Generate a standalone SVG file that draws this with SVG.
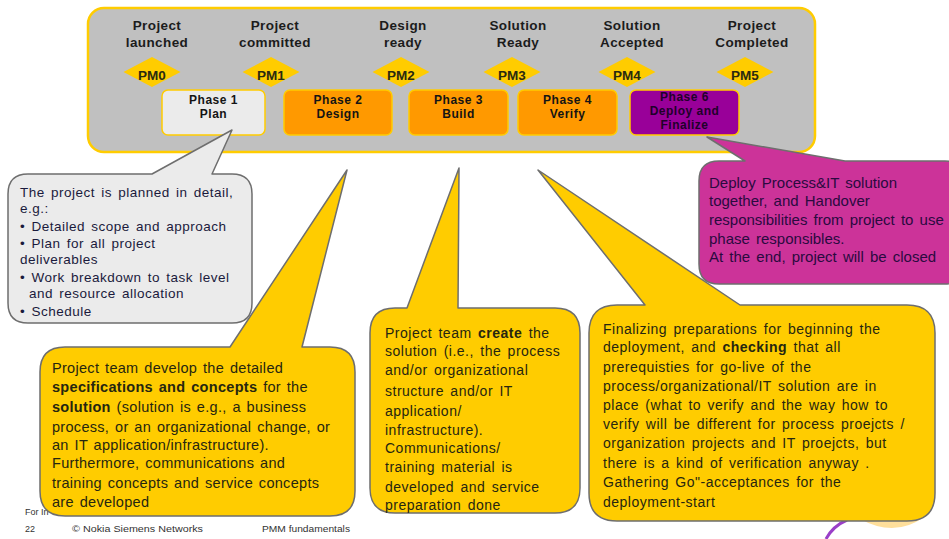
<svg xmlns="http://www.w3.org/2000/svg" width="949" height="539" viewBox="0 0 949 539">
<style>
  .lbl{font-family:"Liberation Sans",Arial,sans-serif;font-weight:bold;font-size:13.5px;letter-spacing:0.4px;fill:#1c1c1c;text-anchor:middle}
  .pm{font-family:"Liberation Sans",Arial,sans-serif;font-weight:bold;font-size:13.5px;fill:#2a2a10;text-anchor:middle}
  .ph{font-family:"Liberation Sans",Arial,sans-serif;font-weight:bold;font-size:12px;letter-spacing:0.5px;fill:#141414;text-anchor:middle}
  .dia{fill:#ffcc00}
  .box{stroke:#ffcc00;stroke-width:1.5}
  .call{stroke:#6e6e6e;stroke-width:1.5;stroke-linejoin:round}
  .body{font-family:"Liberation Sans",Arial,sans-serif;font-size:14px;fill:#262610}
  .gtxt{font-family:"Liberation Sans",Arial,sans-serif;font-size:13.5px;letter-spacing:0.5px;word-spacing:2px;fill:#1a1a3c}
  .ptxt{font-family:"Liberation Sans",Arial,sans-serif;font-size:15px;word-spacing:2px;fill:#2a0a40}
  .foot{font-family:"Liberation Sans",Arial,sans-serif;font-size:9px;fill:#333}
  .b{font-weight:bold}
</style>

<!-- decorative fragments bottom right -->
<path d="M860,519 Q895,538 924,517 L932,500 Q914,528 860,519 Z" fill="#ffd98a" opacity="0.85"/>
<path d="M826,539 Q833,526 847,520" fill="none" stroke="#9a3fc8" stroke-width="3"/>

<!-- footer -->
<g id="footer">
  <text class="foot" x="25" y="515">For In</text>
  <text class="foot" x="25" y="532">22</text>
  <text class="foot" x="72" y="532" textLength="131" lengthAdjust="spacingAndGlyphs">© Nokia Siemens Networks</text>
  <text class="foot" x="262" y="532" textLength="88" lengthAdjust="spacingAndGlyphs">PMM fundamentals</text>
</g>

<!-- banner -->
<g id="banner">
  <rect x="88" y="8" width="727" height="144" rx="16" fill="#c0c0c0" stroke="#ffcc00" stroke-width="2.5"/>
</g>

<g id="milestones">
  <g id="pm0">
    <text class="lbl" x="157" y="30">Project</text>
    <text class="lbl" x="157" y="47">launched</text>
    <polygon class="dia" points="123.5,72 152,57 180.5,72 152,87"/>
    <text class="pm" x="152" y="80">PM0</text>
  </g>
  <g id="pm1">
    <text class="lbl" x="275" y="30">Project</text>
    <text class="lbl" x="275" y="47">committed</text>
    <polygon class="dia" points="242.5,72 271,57 299.5,72 271,87"/>
    <text class="pm" x="271" y="80">PM1</text>
  </g>
  <g id="pm2">
    <text class="lbl" x="403" y="30">Design</text>
    <text class="lbl" x="403" y="47">ready</text>
    <polygon class="dia" points="372.5,72 401,57 429.5,72 401,87"/>
    <text class="pm" x="401" y="80">PM2</text>
  </g>
  <g id="pm3">
    <text class="lbl" x="518" y="30">Solution</text>
    <text class="lbl" x="518" y="47">Ready</text>
    <polygon class="dia" points="483.5,72 512,57 540.5,72 512,87"/>
    <text class="pm" x="512" y="80">PM3</text>
  </g>
  <g id="pm4">
    <text class="lbl" x="632" y="30">Solution</text>
    <text class="lbl" x="632" y="47">Accepted</text>
    <polygon class="dia" points="598.5,72 627,57 655.5,72 627,87"/>
    <text class="pm" x="627" y="80">PM4</text>
  </g>
  <g id="pm5">
    <text class="lbl" x="752" y="30">Project</text>
    <text class="lbl" x="752" y="47">Completed</text>
    <polygon class="dia" points="716.5,72 745,57 773.5,72 745,87"/>
    <text class="pm" x="745" y="80">PM5</text>
  </g>
</g>

<g id="phases">
  <g id="phase1">
    <rect class="box" x="162" y="90" width="103" height="45" rx="6" fill="#ebebeb"/>
    <text class="ph" x="213.5" y="104">Phase 1</text>
    <text class="ph" x="213.5" y="118">Plan</text>
  </g>
  <g id="phase2">
    <rect class="box" x="284" y="90" width="108" height="45" rx="6" fill="#ff9900"/>
    <text class="ph" x="338" y="104">Phase 2</text>
    <text class="ph" x="338" y="118">Design</text>
  </g>
  <g id="phase3">
    <rect class="box" x="409" y="90" width="99" height="45" rx="6" fill="#ff9900"/>
    <text class="ph" x="458.5" y="104">Phase 3</text>
    <text class="ph" x="458.5" y="118">Build</text>
  </g>
  <g id="phase4">
    <rect class="box" x="518" y="90" width="99" height="45" rx="6" fill="#ff9900"/>
    <text class="ph" x="567.5" y="104">Phase 4</text>
    <text class="ph" x="567.5" y="118">Verify</text>
  </g>
  <g id="phase6">
    <rect class="box" x="630" y="90" width="109" height="45" rx="6" fill="#990099"/>
    <text class="ph" x="684.5" y="101" style="fill:#20002a">Phase 6</text>
    <text class="ph" x="684.5" y="115" style="fill:#20002a">Deploy and</text>
    <text class="ph" x="684.5" y="129" style="fill:#20002a">Finalize</text>
  </g>
</g>

<!-- callouts -->
<g id="callout-deploy">
  <path class="call" fill="#cc3399" d="M719,161 L745,161 L707,137 L845,161 L945,161 Q965,161 965,181 L965,264 Q965,284 945,284 L719,284 Q699,284 699,264 L699,181 Q699,161 719,161 Z"/>
  <text class="ptxt" x="709" y="188">Deploy Process&amp;IT solution</text>
  <text class="ptxt" x="709" y="206">together, and Handover</text>
  <text class="ptxt" x="709" y="225">responsibilities from project to use</text>
  <text class="ptxt" x="709" y="244">phase responsibles.</text>
  <text class="ptxt" x="709" y="262">At the end, project will be closed</text>
</g>

<g id="callout-design">
  <path class="call" fill="#ffcc00" d="M65,347 L230,347 L347,170 L302,347 L330,347 Q355,347 355,372 L355,491 Q355,516 330,516 L65,516 Q40,516 40,491 L40,372 Q40,347 65,347 Z"/>
  <g class="body" style="font-size:14.5px;letter-spacing:0.3px;word-spacing:1.5px">
    <text x="52" y="373">Project team develop the detailed</text>
    <text x="52" y="392"><tspan class="b">specifications and concepts</tspan> for the</text>
    <text x="52" y="412"><tspan class="b">solution</tspan> (solution is e.g., a business</text>
    <text x="52" y="432">process, or an organizational change, or</text>
    <text x="52" y="450">an IT application/infrastructure).</text>
    <text x="52" y="468">Furthermore, communications and</text>
    <text x="52" y="488">training concepts and service concepts</text>
    <text x="52" y="507">are developed</text>
  </g>
</g>

<g id="callout-plan">
  <path class="call" fill="#ebebeb" d="M28,174 L152,174 L232,130 L212,174 L232,174 Q252,174 252,194 L252,303 Q252,323 232,323 L28,323 Q8,323 8,303 L8,194 Q8,174 28,174 Z"/>
  <g class="gtxt">
    <text x="20" y="197">The project is planned in detail,</text>
    <text x="20" y="213">e.g.:</text>
    <text x="20" y="231">• Detailed scope and approach</text>
    <text x="20" y="248">• Plan for all project</text>
    <text x="20" y="264">deliverables</text>
    <text x="20" y="282">• Work breakdown to task level</text>
    <text x="29" y="298">and resource allocation</text>
    <text x="20" y="316">• Schedule</text>
  </g>
</g>

<g id="callout-build">
  <path class="call" fill="#ffcc00" d="M395,308 L407,308 L459,168 L458,308 L555,308 Q580,308 580,333 L580,488 Q580,513 555,513 L395,513 Q370,513 370,488 L370,333 Q370,308 395,308 Z"/>
  <g class="body" style="letter-spacing:0.5px;word-spacing:2px">
    <text x="385" y="338">Project team <tspan class="b">create</tspan> the</text>
    <text x="385" y="356">solution (i.e., the process</text>
    <text x="385" y="375">and/or organizational</text>
    <text x="385" y="396">structure and/or IT</text>
    <text x="385" y="416">application/</text>
    <text x="385" y="435">infrastructure).</text>
    <text x="385" y="453">Communications/</text>
    <text x="385" y="472">training material is</text>
    <text x="385" y="492">developed and service</text>
    <text x="385" y="510">preparation done</text>
  </g>
</g>

<g id="callout-verify">
  <path class="call" fill="#ffcc00" d="M617,305 L645,305 L538,170 L740,305 L907,305 Q935,305 935,333 L935,493 Q935,521 907,521 L617,521 Q589,521 589,493 L589,333 Q589,305 617,305 Z"/>
  <g class="body" style="letter-spacing:0.5px;word-spacing:2px">
    <text x="603" y="334">Finalizing preparations for beginning the</text>
    <text x="603" y="352">deployment, and <tspan class="b">checking</tspan> that all</text>
    <text x="603" y="372">prerequisties for go-live of the</text>
    <text x="603" y="391">process/organizational/IT solution are in</text>
    <text x="603" y="410">place (what to verify and the way how to</text>
    <text x="603" y="429">verify will be different for process proejcts /</text>
    <text x="603" y="448">organization projects and IT proejcts, but</text>
    <text x="603" y="468">there is a kind of verification anyway .</text>
    <text x="603" y="487">Gathering Go"-acceptances for the</text>
    <text x="603" y="507">deployment-start</text>
  </g>
</g>

<g id="connectors"></g>
</svg>
